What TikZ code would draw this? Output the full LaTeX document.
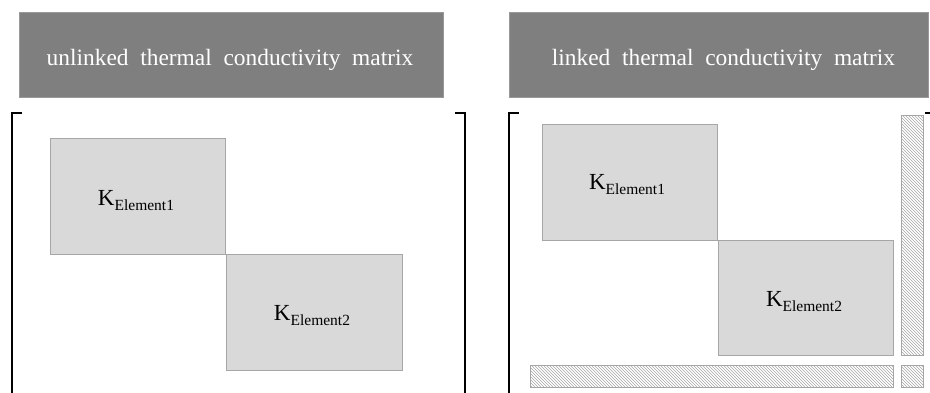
\documentclass[tikz,border=0pt]{standalone}
\usepackage{fontspec}
\setmainfont{Liberation Serif}
\usetikzlibrary{patterns}
\definecolor{titlegray}{HTML}{7F7F7F}
\definecolor{boxfill}{HTML}{D9D9D9}
\definecolor{boxline}{HTML}{A6A6A6}
\newcommand{\kel}[1]{K\raisebox{-5pt}{\fontsize{15.5}{15.5}\selectfont Element#1}}
\begin{document}
\begin{tikzpicture}[x=1pt,y=-1pt,
  titlebox/.style={fill=titlegray,draw=gray!80,line width=0.8pt},
  titletext/.style={text=white,font=\fontsize{23.4}{23.4}\selectfont,anchor=base,inner sep=0pt},
  kbox/.style={fill=boxfill,draw=boxline,line width=1pt},
  ktext/.style={font=\fontsize{23}{23}\selectfont,anchor=base,inner sep=0pt},
  hatchbox/.style={draw=boxline,line width=1pt,pattern=north west lines,pattern color=gray!70},
  bracket/.style={draw=black,line width=1.8pt}]
\useasboundingbox (0,0) rectangle (930,392);
% titles
\draw[titlebox] (19,12) rectangle (443,97);
\node[titletext] (t1) at (230,65) {unlinked\ \ thermal\ \ conductivity\ \ matrix};
\draw[titlebox] (509,12) rectangle (928,97);
\node[titletext] (t2) at (723.5,65) {linked\ \ thermal\ \ conductivity\ \ matrix};
% left matrix
\draw[bracket] (22,113) -- (12,113) -- (12,393);
\draw[bracket] (455,113) -- (465,113) -- (465,393);
\draw[kbox] (50,138) rectangle (225,254);
\node[ktext] (lk1) at (136,205) {\kel{1}};
\draw[kbox] (226,254) rectangle (402,370);
\node[ktext] (lk2) at (312,320) {\kel{2}};
% right matrix
\draw[bracket] (519,113) -- (509,113) -- (509,393);
\draw[bracket] (925,113) -- (932,113) -- (932,393);
\draw[kbox] (542,124) rectangle (717,240);
\node[ktext] (rk1) at (627,189) {\kel{1}};
\draw[kbox] (718,240) rectangle (893,355);
\node[ktext] (rk2) at (804,306) {\kel{2}};
\draw[hatchbox] (901,115) rectangle (923,355);
\draw[hatchbox] (530,365) rectangle (893,387);
\draw[hatchbox] (901,365) rectangle (923,387);
\end{tikzpicture}
\end{document}
